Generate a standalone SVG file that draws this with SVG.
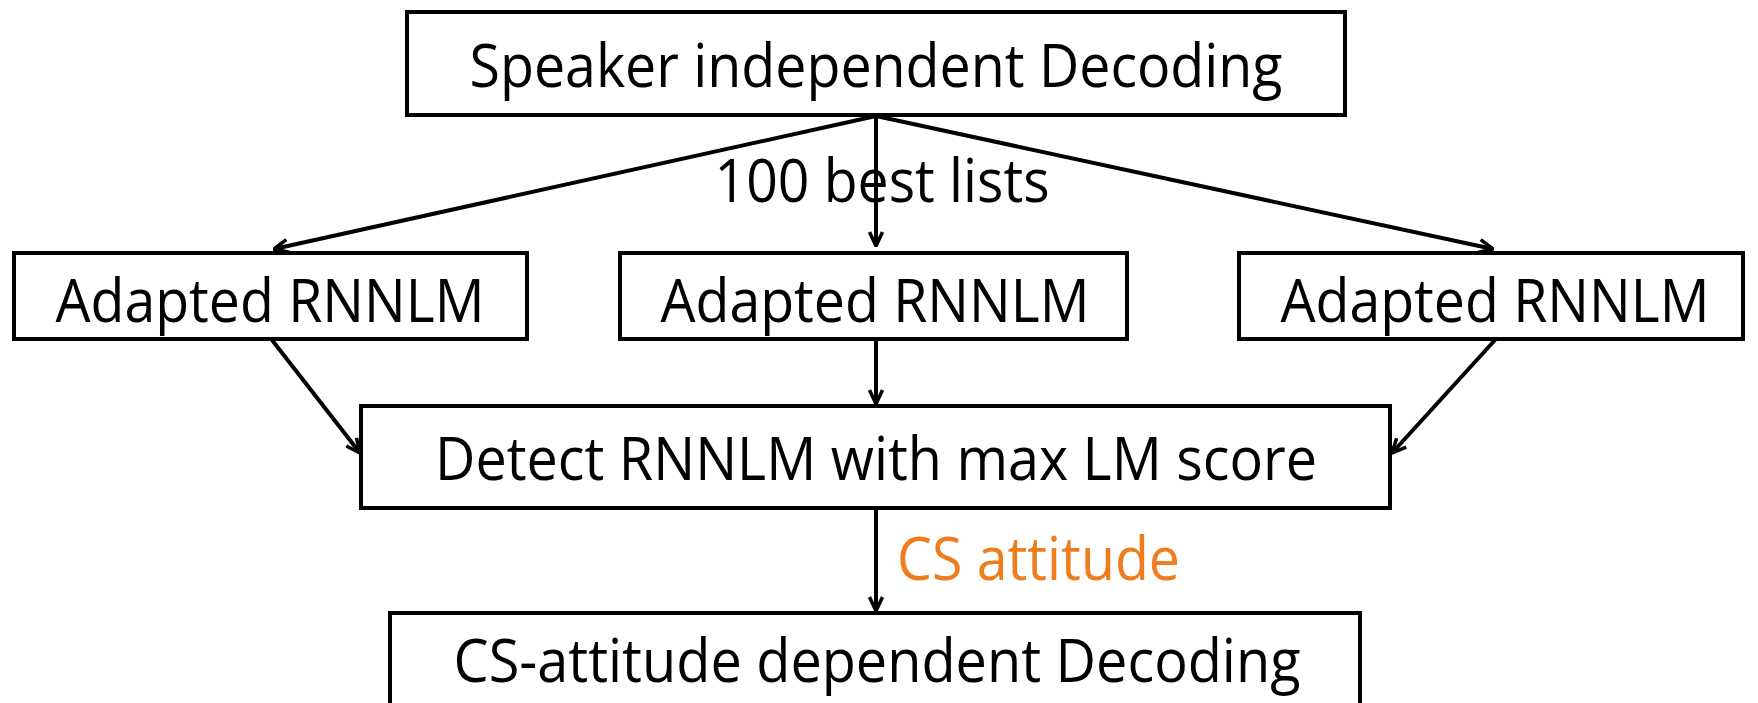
<svg xmlns="http://www.w3.org/2000/svg" width="1758" height="703" viewBox="0 0 1758 703">
<style>
.box{fill:#fff;stroke:#000;stroke-width:4}
.t{font-family:"Open Sans","Noto Sans","Liberation Sans",sans-serif;font-size:61px;fill:#000;text-anchor:middle}
.c{fill:none;stroke:#000;stroke-width:4}
</style>
<defs>
<marker id="ah" viewBox="0 0 16 16" refX="15" refY="8" markerWidth="16" markerHeight="16" markerUnits="userSpaceOnUse" orient="auto">
<path d="M1,1.5 L15,8 L1,14.5" fill="none" stroke="#000" stroke-width="3.5" stroke-linejoin="miter"/>
</marker>
</defs>
<rect width="1758" height="703" fill="#fff"/>
<g id="connectors">
<line class="c" x1="876" y1="116" x2="876" y2="246" marker-end="url(#ah)"/>
<line class="c" x1="876" y1="116" x2="274" y2="249" marker-end="url(#ah)"/>
<line class="c" x1="876" y1="116" x2="1493" y2="249" marker-end="url(#ah)"/>
<line class="c" x1="272" y1="340" x2="360" y2="453" marker-end="url(#ah)"/>
<line class="c" x1="876" y1="340" x2="876" y2="404" marker-end="url(#ah)"/>
<line class="c" x1="1495" y1="340" x2="1392" y2="453" marker-end="url(#ah)"/>
<line class="c" x1="876" y1="509" x2="876" y2="611" marker-end="url(#ah)"/>
<text x="897" y="580" style="font-family:'Open Sans','Noto Sans',sans-serif;font-size:61px;fill:#EE7D1E" textLength="283" lengthAdjust="spacingAndGlyphs">CS attitude</text>
</g>
<g id="speaker-independent">
<rect class="box" x="407" y="12" width="938" height="103"/>
<text class="t" x="876" y="87" textLength="813" lengthAdjust="spacingAndGlyphs">Speaker independent Decoding</text>
</g>
<text class="t" x="882" y="202" textLength="335" lengthAdjust="spacingAndGlyphs">100 best lists</text>
<g id="adapted-left">
<rect class="box" x="14" y="253" width="513" height="86"/>
<text class="t" x="270" y="322" textLength="429" lengthAdjust="spacingAndGlyphs">Adapted RNNLM</text>
</g>
<g id="adapted-middle">
<rect class="box" x="620" y="253" width="507" height="86"/>
<text class="t" x="875" y="322" textLength="429" lengthAdjust="spacingAndGlyphs">Adapted RNNLM</text>
</g>
<g id="adapted-right">
<rect class="box" x="1239" y="253" width="504" height="86"/>
<text class="t" x="1495" y="322" textLength="429" lengthAdjust="spacingAndGlyphs">Adapted RNNLM</text>
</g>
<g id="detect">
<rect class="box" x="361" y="406" width="1029" height="102"/>
<text class="t" x="876" y="480" textLength="882" lengthAdjust="spacingAndGlyphs">Detect RNNLM with max LM score</text>
</g>
<g id="cs-dependent">
<rect class="box" x="390" y="613" width="970" height="110"/>
<text class="t" x="877" y="682" textLength="847" lengthAdjust="spacingAndGlyphs">CS-attitude dependent Decoding</text>
</g>
</svg>
